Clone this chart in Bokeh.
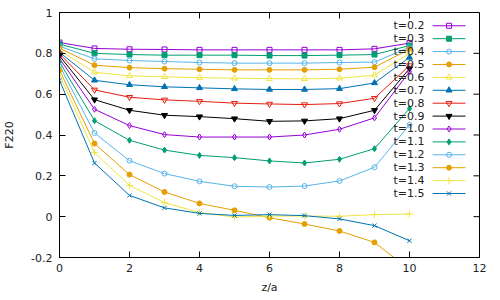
from bokeh.plotting import figure
from bokeh.models import FixedTicker, Range1d, ColumnDataSource
from bokeh.embed import file_html
from bokeh.resources import INLINE
from bokeh.core.properties import value

# ---- data ----
z = [0, 1, 2, 3, 4, 5, 6, 7, 8, 9, 10]
times = ["0.2", "0.3", "0.4", "0.5", "0.6", "0.7", "0.8", "0.9", "1.0", "1.1", "1.2", "1.3", "1.4", "1.5"]
f_t02 = [0.853, 0.824, 0.820, 0.819, 0.817, 0.817, 0.817, 0.817, 0.817, 0.822, 0.850]
f_t03 = [0.845, 0.800, 0.794, 0.791, 0.791, 0.791, 0.789, 0.789, 0.791, 0.794, 0.838]
f_t04 = [0.835, 0.773, 0.765, 0.760, 0.755, 0.752, 0.752, 0.752, 0.755, 0.757, 0.830]
f_t05 = [0.825, 0.742, 0.730, 0.725, 0.722, 0.719, 0.719, 0.719, 0.722, 0.732, 0.820]
f_t06 = [0.815, 0.707, 0.690, 0.685, 0.681, 0.678, 0.676, 0.675, 0.678, 0.693, 0.800]
f_t07 = [0.805, 0.668, 0.646, 0.636, 0.631, 0.626, 0.623, 0.623, 0.627, 0.655, 0.780]
f_t08 = [0.798, 0.621, 0.585, 0.572, 0.565, 0.556, 0.552, 0.549, 0.554, 0.580, 0.740]
f_t09 = [0.788, 0.573, 0.521, 0.497, 0.490, 0.480, 0.467, 0.469, 0.480, 0.521, 0.725]
f_t10 = [0.775, 0.526, 0.446, 0.402, 0.390, 0.390, 0.390, 0.400, 0.428, 0.484, 0.710]
f_t11 = [0.758, 0.470, 0.374, 0.326, 0.300, 0.289, 0.273, 0.263, 0.281, 0.333, 0.530]
f_t12 = [0.740, 0.410, 0.274, 0.211, 0.173, 0.149, 0.145, 0.150, 0.175, 0.242, 0.450]
f_t13 = [0.717, 0.358, 0.206, 0.121, 0.065, 0.031, -0.005, -0.036, -0.070, -0.126, -0.260]
f_t14 = [0.695, 0.314, 0.153, 0.069, 0.020, -0.002, 0.003, 0.003, 0.002, 0.010, 0.013]
f_t15 = [0.668, 0.263, 0.104, 0.043, 0.016, 0.006, 0.010, 0.005, -0.011, -0.044, -0.118]
series = [f_t02, f_t03, f_t04, f_t05, f_t06, f_t07, f_t08, f_t09, f_t10, f_t11, f_t12, f_t13, f_t14, f_t15]

x_ticks = [0, 2, 4, 6, 8, 10, 12]
y_ticks = [-0.2, 0, 0.2, 0.4, 0.6, 0.8, 1]
y_tick_labels = ["-0.2", "0", "0.2", "0.4", "0.6", "0.8", "1"]

# ---- styles ----
colors = ["#9400d3", "#009e73", "#56b4e9", "#e69f00", "#f0e442", "#0072b2", "#e51e10",
          "#000000", "#9400d3", "#009e73", "#56b4e9", "#e69f00", "#f0e442", "#0072b2"]
markers = ["square", "square", "circle", "circle", "triangle", "triangle", "inverted_triangle",
           "inverted_triangle", "diamond", "diamond", "circle", "circle", "cross", "x"]
filled = [False, True, False, True, False, True, False, True, False, True, False, True, False, False]
sizes = [5, 5, 5, 5, 6, 6, 6, 6, 6, 6, 5, 5, 7, 6]

FONT = "DejaVu Sans"
FS = "11px"
TXT = "#222222"

X0, X1, Y0, Y1 = 0, 12, -0.2, 1
FRAME_W, FRAME_H = 420, 245

p = figure(frame_width=FRAME_W, frame_height=FRAME_H, output_backend="svg", toolbar_location=None,
           x_range=Range1d(X0, X1), y_range=Range1d(Y0, Y1),
           min_border_left=53, min_border_right=11, min_border_top=12, min_border_bottom=35)
p.background_fill_color = "white"
p.border_fill_color = "white"
p.outline_line_color = "black"
p.outline_line_width = 1
p.xgrid.visible = False
p.ygrid.visible = False

def style_axis(ax, ticks, overrides=None):
    ax.ticker = FixedTicker(ticks=ticks)
    ax.axis_line_color = "black"
    ax.major_tick_line_color = "black"
    ax.major_tick_in = 6
    ax.major_tick_out = 0
    ax.minor_tick_line_color = None
    ax.major_label_text_font = FONT
    ax.major_label_text_font_size = FS
    ax.major_label_text_color = TXT
    ax.axis_label_text_font = FONT
    ax.axis_label_text_font_size = FS
    ax.axis_label_text_font_style = "normal"
    ax.axis_label_text_color = TXT
    if overrides:
        ax.major_label_overrides = overrides

style_axis(p.xaxis[0], x_ticks)
p.xaxis[0].axis_label = "z/a"
p.xaxis[0].major_label_standoff = 6
p.xaxis[0].axis_label_standoff = 6

ov = {t: s for t, s in zip(y_ticks, y_tick_labels)}
style_axis(p.yaxis[0], y_ticks, overrides=ov)
p.yaxis[0].axis_label = "F220"
p.yaxis[0].major_label_standoff = 7
p.yaxis[0].axis_label_standoff = 12

# mirrored inward ticks on top and right borders (gnuplot style)
tick_dy = 6 * (Y1 - Y0) / FRAME_H
tick_dx = 6 * (X1 - X0) / FRAME_W
p.segment(x0=x_ticks, y0=[Y1] * len(x_ticks), x1=x_ticks, y1=[Y1 - tick_dy] * len(x_ticks),
          line_color="black", line_width=1)
p.segment(x0=[X1] * len(y_ticks), y0=y_ticks, x1=[X1 - tick_dx] * len(y_ticks), y1=y_ticks,
          line_color="black", line_width=1)

for ys, c, m, f, s in zip(series, colors, markers, filled, sizes):
    p.line(z, ys, line_color=c, line_width=1)
    p.scatter(z, ys, marker=m, size=s, line_color=c, line_width=1,
              fill_color=c if f else None)

# ---- key (gnuplot style: label right-aligned, then sample) ----
key_text_x = 10.43
key_x0, key_x1, key_xm = 10.66, 11.6, 11.13
key_y0 = 0.935
key_dy = 0.0632
rows = list(range(len(times)))
key_y = [key_y0 - i * key_dy for i in rows]
labels = ["t=" + t for t in times]
src = ColumnDataSource(dict(x=[key_text_x] * len(rows), y=key_y, text=labels))
p.text(x="x", y="y", text="text", source=src, text_align="right", text_baseline="middle",
       text_font=value(FONT), text_font_size=FS, text_color=TXT)
for yk, c, m, f, s in zip(key_y, colors, markers, filled, sizes):
    p.segment(x0=[key_x0], y0=[yk], x1=[key_x1], y1=[yk], line_color=c, line_width=1)
    p.scatter([key_xm], [yk], marker=m, size=s, line_color=c, line_width=1,
              fill_color=c if f else None)

open("out.html", "w").write(file_html(p, INLINE))
